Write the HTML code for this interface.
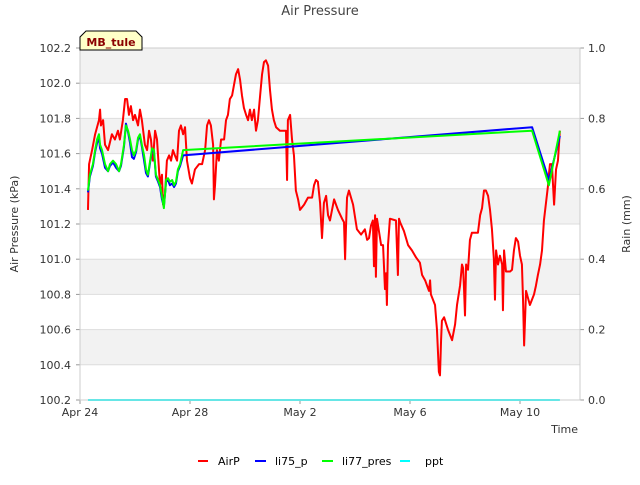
<!DOCTYPE html>
<html><head><meta charset="utf-8"><style>
body{margin:0;background:#fff}
svg text{font-family:"DejaVu Sans","Liberation Sans",sans-serif}
</style></head><body>
<svg id="chart" width="640" height="480" xmlns="http://www.w3.org/2000/svg">
<rect x="0" y="0" width="640" height="480" fill="#fff"/>
<g id="bands"></g>
<g id="grid"></g>
<text x="320" y="15" text-anchor="middle" font-size="13" fill="#444">Air Pressure</text>
<g id="yticks" font-size="11" fill="#333"></g>
<g id="y2ticks" font-size="11" fill="#333"></g>
<g id="xticks" font-size="11" fill="#333"></g>
<text transform="translate(18,224) rotate(-90)" text-anchor="middle" font-size="11" fill="#333">Air Pressure (kPa)</text>
<text transform="translate(630,224) rotate(-90)" text-anchor="middle" font-size="11" fill="#333">Rain (mm)</text>
<text x="578" y="433" text-anchor="end" font-size="11" fill="#333">Time</text>
<g id="series" clip-path="url(#clip)"></g>
<defs><clipPath id="clip"><rect x="80" y="48" width="500" height="353"/></clipPath></defs>
<rect x="80" y="48" width="500" height="352" fill="none" stroke="#ccc"/>
<g>
<path d="M80,50 L80,37 L86,31 L136,31 L142,37 L142,50 Z" fill="#ffffc8" stroke="#000" stroke-width="1"/>
<text x="111" y="46" text-anchor="middle" font-size="11" font-weight="bold" fill="#8b0000">MB_tule</text>
</g>
<g id="legend" font-size="11" fill="#000">
<g><line x1="198" y1="461" x2="208" y2="461" stroke="#f00" stroke-width="2"/><text x="218" y="465">AirP</text></g>
<g><line x1="255" y1="461" x2="266" y2="461" stroke="#00f" stroke-width="2"/><text x="275" y="465">li75_p</text></g>
<g><line x1="322" y1="461" x2="333" y2="461" stroke="#0f0" stroke-width="2"/><text x="342" y="465">li77_pres</text></g>
<g><line x1="400" y1="461" x2="410" y2="461" stroke="#0ff" stroke-width="2"/><text x="425" y="465">ppt</text></g>
</g>
</svg>
<script>
const yTicks=[100.2,100.4,100.6,100.8,101.0,101.2,101.4,101.6,101.8,102.0,102.2];
const y2Ticks=[0.0,0.2,0.4,0.6,0.8,1.0];
const xTickDays=[0,4,8,12,16];
const xTickLabels=["Apr 24","Apr 28","May 2","May 6","May 10"];
const airDays=[0.29,0.33,0.44,0.55,0.69,0.73,0.76,0.84,0.91,1.02,1.16,1.27,1.38,1.45,1.56,1.64,1.71,1.78,1.85,1.93,2.00,2.11,2.18,2.25,2.36,2.44,2.51,2.58,2.65,2.73,2.80,2.91,2.98,3.02,3.09,3.16,3.24,3.31,3.38,3.45,3.53,3.60,3.67,3.75,3.82,3.89,4.00,4.07,4.18,4.33,4.44,4.55,4.62,4.69,4.76,4.84,4.87,4.91,4.98,5.05,5.13,5.24,5.31,5.38,5.45,5.53,5.60,5.67,5.75,5.82,5.89,5.96,6.04,6.11,6.18,6.25,6.33,6.40,6.47,6.55,6.62,6.69,6.76,6.84,6.91,6.98,7.05,7.13,7.27,7.42,7.49,7.53,7.56,7.64,7.71,7.78,7.85,7.93,8.00,8.15,8.29,8.44,8.51,8.58,8.65,8.73,8.80,8.87,8.95,9.02,9.09,9.24,9.38,9.53,9.60,9.64,9.67,9.71,9.78,9.93,10.07,10.22,10.36,10.44,10.51,10.58,10.65,10.69,10.73,10.76,10.80,10.95,11.02,11.09,11.13,11.16,11.20,11.27,11.49,11.56,11.60,11.64,11.78,11.93,12.07,12.22,12.36,12.44,12.55,12.69,12.73,12.76,12.91,12.98,13.05,13.09,13.13,13.16,13.24,13.38,13.53,13.64,13.71,13.82,13.89,13.93,13.96,14.00,14.04,14.11,14.18,14.25,14.47,14.55,14.62,14.69,14.76,14.84,14.91,14.98,15.05,15.09,15.13,15.20,15.27,15.35,15.38,15.42,15.49,15.64,15.71,15.78,15.85,15.93,16.00,16.07,16.11,16.15,16.22,16.36,16.51,16.58,16.65,16.73,16.80,16.87,17.02,17.05,17.09,17.16,17.24,17.31,17.38,17.45];
const airP=[101.28,101.54,101.62,101.71,101.79,101.85,101.76,101.79,101.65,101.62,101.71,101.68,101.73,101.68,101.79,101.91,101.91,101.82,101.87,101.79,101.82,101.76,101.85,101.79,101.65,101.62,101.73,101.68,101.56,101.73,101.68,101.42,101.48,101.31,101.37,101.56,101.59,101.56,101.62,101.59,101.56,101.73,101.76,101.71,101.75,101.56,101.46,101.43,101.51,101.54,101.54,101.62,101.76,101.79,101.76,101.65,101.34,101.42,101.62,101.56,101.68,101.68,101.79,101.82,101.91,101.93,101.99,102.05,102.08,102.02,101.93,101.86,101.82,101.79,101.85,101.79,101.85,101.73,101.79,101.93,102.05,102.12,102.13,102.10,101.96,101.85,101.79,101.75,101.73,101.73,101.73,101.45,101.79,101.82,101.68,101.59,101.39,101.34,101.28,101.31,101.35,101.35,101.42,101.45,101.44,101.32,101.12,101.32,101.36,101.25,101.22,101.34,101.28,101.23,101.21,101.00,101.17,101.35,101.39,101.31,101.17,101.14,101.17,101.11,101.12,101.19,101.22,100.96,101.25,100.90,101.23,101.08,101.08,100.83,100.92,100.74,101.08,101.23,101.22,100.91,101.23,101.21,101.16,101.08,101.05,101.01,100.98,100.91,100.88,100.82,100.88,100.80,100.74,100.60,100.36,100.34,100.54,100.65,100.67,100.60,100.54,100.63,100.74,100.85,100.97,100.95,100.85,100.68,100.97,100.94,101.11,101.15,101.15,101.25,101.29,101.39,101.39,101.36,101.28,101.17,101.00,100.77,101.05,100.97,101.02,100.97,100.71,101.05,100.93,100.93,100.94,101.05,101.12,101.10,101.02,100.97,100.77,100.51,100.82,100.74,100.80,100.85,100.91,100.97,101.05,101.22,101.42,101.48,101.54,101.54,101.31,101.51,101.56,101.73,101.82,101.89,101.89];
const presDays=[0.29,0.36,0.47,0.55,0.62,0.69,0.73,0.80,0.91,1.02,1.09,1.20,1.31,1.42,1.49,1.60,1.67,1.75,1.82,1.89,1.96,2.04,2.11,2.18,2.25,2.33,2.40,2.47,2.55,2.62,2.69,2.76,2.84,2.91,2.98,3.05,3.13,3.20,3.27,3.35,3.42,3.49,3.56,3.64,3.75,16.44,17.05,17.45];
const li77=[101.39,101.48,101.54,101.62,101.68,101.71,101.65,101.62,101.54,101.50,101.54,101.56,101.54,101.50,101.54,101.65,101.76,101.73,101.68,101.62,101.59,101.62,101.69,101.71,101.65,101.59,101.51,101.48,101.56,101.63,101.62,101.48,101.45,101.42,101.36,101.29,101.45,101.46,101.44,101.45,101.42,101.44,101.51,101.54,101.62,101.73,101.42,101.73];
const li75=[101.38,101.47,101.53,101.61,101.66,101.69,101.63,101.60,101.52,101.50,101.53,101.55,101.52,101.50,101.53,101.64,101.77,101.72,101.66,101.58,101.57,101.61,101.68,101.70,101.64,101.56,101.49,101.47,101.55,101.62,101.61,101.47,101.44,101.41,101.34,101.30,101.44,101.45,101.42,101.43,101.41,101.43,101.50,101.53,101.59,101.75,101.45,101.70];
const pptDays=[0.29,17.45];
const ppt=[0,0];

const X=d=>80+d*27.5;
const Y=v=>400-(v-100.2)*176;
const Y2=v=>400-v*352;
const NS="http://www.w3.org/2000/svg";
function mk(tag,attrs,parent){const e=document.createElementNS(NS,tag);for(const k in attrs)e.setAttribute(k,attrs[k]);document.getElementById(parent).appendChild(e);return e;}
// bands
for(let i=0;i<yTicks.length-1;i+=2){
 const b=mk('rect',{x:80,y:Y(yTicks[yTicks.length-1-i]),width:500,height:Y(yTicks[yTicks.length-2-i])-Y(yTicks[yTicks.length-1-i]),fill:'#f2f2f2'},'bands');
 
 
}
yTicks.forEach(v=>{
 const l=mk('line',{x1:80,x2:580,y1:Y(v),y2:Y(v),stroke:'#ddd'},'grid');
 
 
 const t=mk('text',{x:71,y:Y(v)+4,'text-anchor':'end'},'yticks');
 
 
 t.textContent=v.toFixed(1);
 mk('line',{x1:76,x2:80,y1:Y(v),y2:Y(v),stroke:'#999'},'yticks');
});
y2Ticks.forEach(v=>{
 const t=mk('text',{x:588,y:Y2(v)+4},'y2ticks');
 
 
 t.textContent=v.toFixed(1);
 mk('line',{x1:580,x2:584,y1:Y2(v),y2:Y2(v),stroke:'#999'},'y2ticks');
});
xTickDays.forEach((d,i)=>{
 const t=mk('text',{x:X(d),y:416,'text-anchor':'middle'},'xticks');
 
 
 t.textContent=xTickLabels[i];
 mk('line',{x1:X(d),x2:X(d),y1:400,y2:404,stroke:'#999'},'xticks');
});
function line(days,vals,yf,color,name){
 const p=mk('polyline',{points:days.map((d,i)=>X(d)+','+yf(vals[i])).join(' '),fill:'none',stroke:color,'stroke-width':2,'stroke-linejoin':'round'},'series');
 
 
}
line(pptDays,ppt,Y2,'#00ffff','series-ppt');
line(airDays,airP,Y,'#ff0000','series-airp');
line(presDays,li75,Y,'#0000ff','series-li75-p');
line(presDays,li77,Y,'#00ff00','series-li77-pres');
</script>
</body></html>
